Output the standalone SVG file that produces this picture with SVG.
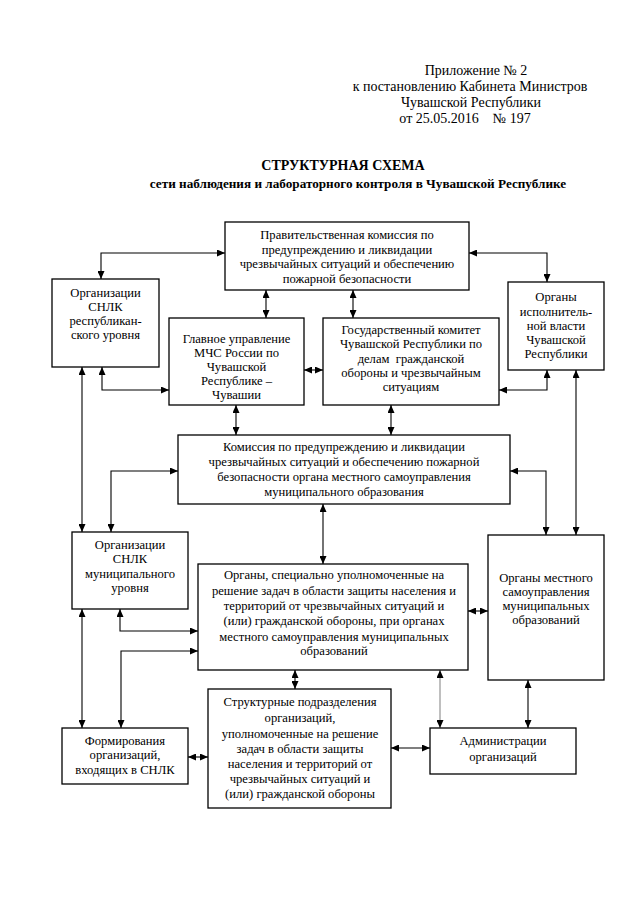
<svg xmlns="http://www.w3.org/2000/svg" width="640" height="905" viewBox="0 0 640 905">
<defs>
<style>
.hdr{font-family:"Liberation Serif","Times New Roman",serif;font-size:14px;fill:#000;text-anchor:middle}
.ttl{font-family:"Liberation Serif","Times New Roman",serif;font-size:14px;font-weight:bold;fill:#000;text-anchor:middle}
.t{font-family:"Liberation Serif","Times New Roman",serif;font-size:12.6px;fill:#000;text-anchor:middle}
.box{fill:#fff;stroke:#000;stroke-width:1.3}
.c{fill:none;stroke:#000;stroke-width:1.1;marker-start:url(#ah);marker-end:url(#ah)}
.g{stroke:#8a8a8a}
</style>
<marker id="ah" viewBox="0 0 8 7" refX="8" refY="3.5" markerWidth="8" markerHeight="7" markerUnits="userSpaceOnUse" orient="auto-start-reverse">
<path d="M0,0 L8,3.5 L0,7 z" fill="#000"/>
</marker>
</defs>
<rect width="640" height="905" fill="#fff"/>
<g id="header">
<text class="hdr" x="476" y="75">Приложение № 2</text>
<text class="hdr" x="470" y="91">к постановлению Кабинета Министров</text>
<text class="hdr" x="471" y="107">Чувашской Республики</text>
<text class="hdr" x="465" y="123" xml:space="preserve">от 25.05.2016    № 197</text>
</g>
<g id="title">
<text class="ttl" x="343" y="170">СТРУКТУРНАЯ СХЕМА</text>
<text class="ttl" x="358" y="188" style="font-size:13.2px">сети наблюдения и лабораторного контроля в Чувашской Республике</text>
</g>
<g id="connectors">
<path class="c" d="M101,279 V253 H225"/>
<path class="c" d="M266,290 V318"/>
<path class="c" d="M353,290 V318"/>
<path class="c" d="M469,253 H547 V282"/>
<path class="c" d="M304,370 H323"/>
<path class="c" d="M102,367 V390 H169"/>
<path class="c" d="M547,370 V390 H499"/>
<path class="c" d="M82,367 V532"/>
<path class="c" d="M576,370 V535"/>
<path class="c" d="M236,405 V435"/>
<path class="c" d="M391,405 V435"/>
<path class="c" d="M178,471 H111 V532"/>
<path class="c" d="M510,471 H546 V535"/>
<path class="c" d="M323,504 V564"/>
<path class="c" d="M120,609 V631 H198"/>
<path class="c" d="M468,611 H488"/>
<path class="c" d="M82,609 V728"/>
<path class="c" d="M198,651 H121 V728"/>
<path class="c" d="M295,670 V689"/>
<path class="c" d="M188,757 H208"/>
<path class="c" d="M391,748 H430"/>
<path class="c g" d="M440,670 V728"/>
<path class="c" d="M528,680 V728"/>
</g>
<g id="n-government-commission">
<rect class="box" x="225" y="222" width="244" height="68"/>
<text class="t" x="347" y="239">Правительственная комиссия по</text>
<text class="t" x="347" y="253.5">предупреждению и ликвидации</text>
<text class="t" x="347" y="268">чрезвычайных ситуаций и обеспечению</text>
<text class="t" x="347" y="282.5">пожарной безопасности</text>
</g>
<g id="n-snlk-republic">
<rect class="box" x="52" y="279" width="107" height="88"/>
<text class="t" x="105.5" y="297">Организации</text>
<text class="t" x="105.5" y="311">СНЛК</text>
<text class="t" x="105.5" y="325">республикан-</text>
<text class="t" x="105.5" y="339">ского уровня</text>
</g>
<g id="n-mchs">
<rect class="box" x="169" y="318" width="135" height="87"/>
<text class="t" x="236.5" y="342.5">Главное управление</text>
<text class="t" x="236.5" y="356.5">МЧС России по</text>
<text class="t" x="236.5" y="370.5">Чувашской</text>
<text class="t" x="236.5" y="384.5">Республике –</text>
<text class="t" x="236.5" y="398.5">Чувашии</text>
</g>
<g id="n-goskomitet">
<rect class="box" x="323" y="318" width="176" height="87"/>
<text class="t" x="411" y="334">Государственный комитет</text>
<text class="t" x="411" y="348">Чувашской Республики по</text>
<text class="t" x="411" y="362.5" xml:space="preserve">делам  гражданской</text>
<text class="t" x="411" y="377">обороны и чрезвычайным</text>
<text class="t" x="411" y="391">ситуациям</text>
</g>
<g id="n-executive">
<rect class="box" x="508" y="282" width="96" height="88"/>
<text class="t" x="556" y="301">Органы</text>
<text class="t" x="556" y="315.5">исполнитель-</text>
<text class="t" x="556" y="330">ной власти</text>
<text class="t" x="556" y="344">Чувашской</text>
<text class="t" x="556" y="358">Республики</text>
</g>
<g id="n-municipal-commission">
<rect class="box" x="178" y="435" width="332" height="69"/>
<text class="t" x="344" y="451">Комиссия по предупреждению и ликвидации</text>
<text class="t" x="344" y="466">чрезвычайных ситуаций и обеспечению пожарной</text>
<text class="t" x="344" y="481">безопасности органа местного самоуправления</text>
<text class="t" x="344" y="496">муниципального образования</text>
</g>
<g id="n-snlk-municipal">
<rect class="box" x="72" y="532" width="116" height="77"/>
<text class="t" x="130" y="549">Организации</text>
<text class="t" x="130" y="563">СНЛК</text>
<text class="t" x="130" y="577.5">муниципального</text>
<text class="t" x="130" y="592">уровня</text>
</g>
<g id="n-authorized-bodies">
<rect class="box" x="198" y="564" width="270" height="106"/>
<text class="t" x="334" y="579">Органы, специально уполномоченные на</text>
<text class="t" x="334" y="594.5">решение задач в области защиты населения и</text>
<text class="t" x="334" y="610">территорий от чрезвычайных ситуаций и</text>
<text class="t" x="334" y="625">(или) гражданской обороны, при органах</text>
<text class="t" x="334" y="641">местного самоуправления муниципальных</text>
<text class="t" x="334" y="655">образований</text>
</g>
<g id="n-local-government">
<rect class="box" x="488" y="535" width="116" height="145"/>
<text class="t" x="546" y="581.5">Органы местного</text>
<text class="t" x="546" y="596">самоуправления</text>
<text class="t" x="546" y="610">муниципальных</text>
<text class="t" x="546" y="624">образований</text>
</g>
<g id="n-structural-units">
<rect class="box" x="208" y="689" width="183" height="119"/>
<text class="t" x="300" y="706">Структурные подразделения</text>
<text class="t" x="300" y="721.5">организаций,</text>
<text class="t" x="300" y="737.5">уполномоченные на решение</text>
<text class="t" x="300" y="752.5">задач в области защиты</text>
<text class="t" x="300" y="767.5">населения и территорий от</text>
<text class="t" x="300" y="783">чрезвычайных ситуаций и</text>
<text class="t" x="300" y="797.5">(или) гражданской обороны</text>
</g>
<g id="n-formations">
<rect class="box" x="62" y="728" width="126" height="56"/>
<text class="t" x="125" y="745">Формирования</text>
<text class="t" x="125" y="759">организаций,</text>
<text class="t" x="125" y="774">входящих в СНЛК</text>
</g>
<g id="n-administrations">
<rect class="box" x="430" y="728" width="146" height="46"/>
<text class="t" x="503" y="745">Администрации</text>
<text class="t" x="503" y="761">организаций</text>
</g>
</svg>
